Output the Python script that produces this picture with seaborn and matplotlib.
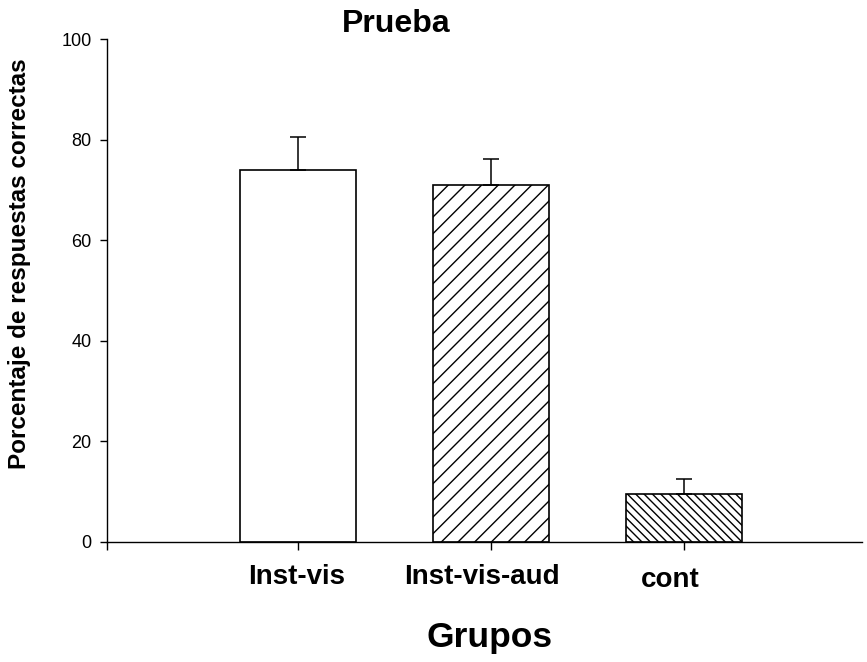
import matplotlib
matplotlib.use('Agg')
import pandas as pd
import seaborn as sns
from matplotlib import pyplot as plt
from matplotlib.transforms import ScaledTranslation

grupos = ['Inst-vis', 'Inst-vis-aud', 'cont']
porcentaje = [74.0, 71.0, 9.5]
error_sup = [6.6, 5.1, 3.0]
tramas = ['', '//', '\\\\\\\\']
y_ticks = [0, 20, 40, 60, 80, 100]


def plot_prueba():
    sns.set_theme(style='ticks')
    plt.rcParams['font.family'] = ['Liberation Sans', 'DejaVu Sans']
    plt.rcParams['hatch.linewidth'] = 1.0
    plt.rcParams['text.color'] = 'black'
    plt.rcParams['axes.labelcolor'] = 'black'
    plt.rcParams['xtick.color'] = 'black'
    plt.rcParams['ytick.color'] = 'black'
    plt.rcParams['axes.edgecolor'] = 'black'

    df = pd.DataFrame({'Grupos': grupos, 'Porcentaje': porcentaje})

    fig = plt.figure(figsize=(8.67, 6.62), dpi=100)
    ax = fig.add_axes([0.1234, 0.1813, 0.8708, 0.7597])
    sns.barplot(data=df, x='Grupos', y='Porcentaje', ax=ax, color='white',
                edgecolor='black', linewidth=1.2, width=0.6, errorbar=None,
                saturation=1)
    for patch, trama in zip(ax.patches, tramas):
        patch.set_hatch(trama)
        patch.set_facecolor('white')
        patch.set_edgecolor('black')

    ax.errorbar(range(len(grupos)), porcentaje, yerr=[[0] * len(grupos), error_sup],
                fmt='none', ecolor='black', elinewidth=1.1, capsize=5.8, capthick=1.1)

    x_left = -0.99
    ax.set_xlim(x_left, 2.922)
    ax.set_ylim(0, 100)
    ax.set_yticks(y_ticks)
    ax.set_yticklabels([str(t) for t in y_ticks], fontsize=13)
    ax.set_xticks([x_left, 0, 1, 2])
    ax.set_xticklabels([''] + grupos, fontsize=20, fontweight='bold')
    ax.tick_params(axis='x', length=6, width=1, pad=10)
    ax.tick_params(axis='y', length=5, width=1, pad=6)
    for side in ['top', 'right']:
        ax.spines[side].set_visible(False)
    ax.spines['left'].set_linewidth(1)
    ax.spines['bottom'].set_linewidth(1)

    # pequeños desplazamientos de las etiquetas como en el original
    desplaz = [(0, 0), (-1, 0), (-9, 0), (-14, -3)]
    for lab, (dx, dy) in zip(ax.get_xticklabels(), desplaz):
        lab.set_transform(lab.get_transform() + ScaledTranslation(dx / 100, dy / 100, fig.dpi_scale_trans))

    ax.set_ylabel('Porcentaje de respuestas correctas', fontsize=17.5, fontweight='bold')
    ax.yaxis.set_label_coords(-0.101, 0.553)
    ax.set_xlabel('Grupos', fontsize=25.5, fontweight='bold')
    ax.xaxis.set_label_coords(0.507, -0.157)
    ax.set_title('Prueba', fontsize=23, fontweight='bold', x=0.383, pad=3)

    plt.savefig('out.png', dpi=100)


if __name__ == '__main__':
    plot_prueba()
